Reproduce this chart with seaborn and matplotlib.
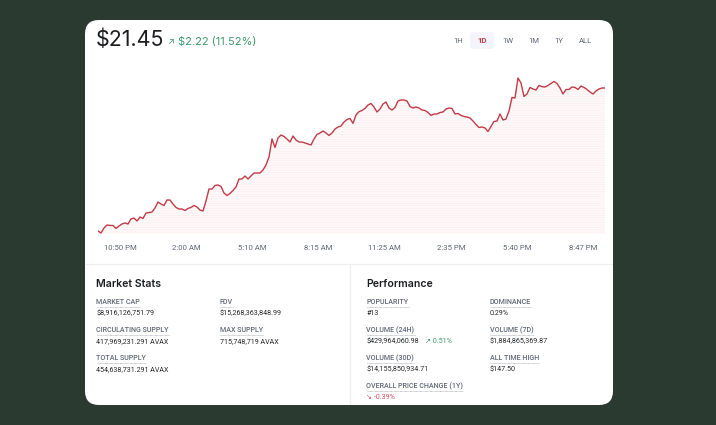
import numpy as np
import pandas as pd
import matplotlib.pyplot as plt
import seaborn as sns
from matplotlib.patches import FancyBboxPatch

# price samples, evenly spaced over the day
price = [19.305, 19.275, 19.35, 19.395, 19.388, 19.388, 19.343, 19.38, 19.41, 19.425,
         19.41, 19.485, 19.5, 19.455, 19.515, 19.493, 19.575, 19.583, 19.59, 19.65,
         19.74, 19.71, 19.688, 19.77, 19.77, 19.71, 19.658, 19.635, 19.635, 19.613,
         19.643, 19.658, 19.688, 19.665, 19.62, 19.605, 19.755, 19.935, 19.935, 19.988,
         19.995, 19.973, 19.875, 19.838, 19.868, 19.913, 19.965, 20.085, 20.085, 20.13,
         20.085, 20.13, 20.175, 20.175, 20.175, 20.22, 20.295, 20.415, 20.685, 20.558,
         20.7, 20.745, 20.723, 20.685, 20.64, 20.73, 20.67, 20.64, 20.64, 20.625,
         20.61, 20.595, 20.685, 20.753, 20.775, 20.805, 20.775, 20.738, 20.775, 20.835,
         20.865, 20.88, 20.94, 20.978, 20.993, 20.92, 21.045, 21.095, 21.113, 21.143,
         21.195, 21.218, 21.165, 21.09, 21.135, 21.21, 21.24, 21.15, 21.12, 21.158,
         21.255, 21.27, 21.27, 21.255, 21.173, 21.15, 21.165, 21.15, 21.12, 21.113,
         21.083, 21.038, 21.06, 21.06, 21.083, 21.09, 21.135, 21.15, 21.143, 21.06,
         21.068, 21.038, 21.023, 21.015, 21.0, 20.955, 20.903, 20.858, 20.865, 20.85,
         20.798, 20.873, 20.948, 20.955, 21.06, 20.97, 20.985, 21.105, 21.308, 21.3,
         21.6, 21.525, 21.323, 21.36, 21.458, 21.435, 21.42, 21.488, 21.47, 21.465,
         21.488, 21.518, 21.548, 21.518, 21.45, 21.36, 21.428, 21.428, 21.465, 21.458,
         21.428, 21.48, 21.458, 21.428, 21.39, 21.36, 21.405, 21.435, 21.45, 21.45]
time_labels = ['10:50 PM', '2:00 AM', '5:10 AM', '8:15 AM', '11:25 AM', '2:35 PM', '5:40 PM', '8:47 PM']
ranges = ['1H', '1D', '1W', '1M', '1Y', 'ALL']

market_labels = ['MARKET CAP', 'FDV', 'CIRCULATING SUPPLY', 'MAX SUPPLY', 'TOTAL SUPPLY']
market_values = ['$8,916,126,751.79', '$15,268,363,848.99', '417,969,231.291 AVAX', '715,748,719 AVAX', '454,638,731.291 AVAX']
perf_labels = ['POPULARITY', 'DOMINANCE', 'VOLUME (24H)', 'VOLUME (7D)', 'VOLUME (30D)', 'ALL TIME HIGH', 'OVERALL PRICE CHANGE (1Y)']
perf_values = ['#13', '0.29%', '$429,964,060.98', '$1,884,865,369.87', '$14,155,850,934.71', '$147.50', '↘ -0.39%']

BG = '#2a3a31'
RED = '#c23a48'
GREEN = '#3f9a70'
GREY = '#5f6675'
INK = '#26282b'
W, H = 716, 425
SMALL = ['Roboto', 'DejaVu Sans']

sns.set_theme(style='white')
plt.rcParams['font.family'] = ['Inter', 'DejaVu Sans']
plt.rcParams['hatch.linewidth'] = 0.6

fig = plt.figure(figsize=(W / 100, H / 100), dpi=100, facecolor=BG)

# page layer in pixel coordinates
page = fig.add_axes([0, 0, 1, 1], zorder=1)
page.set_xlim(0, W)
page.set_ylim(H, 0)
page.axis('off')
page.add_patch(FancyBboxPatch((85, 20), 528, 385, boxstyle='round,pad=0,rounding_size=14', fc='white', ec='none'))
page.plot([86, 612], [264, 264], color='#eeeff1', lw=0.9)
page.plot([350, 350], [264, 404], color='#eeeff1', lw=0.9)

# chart
df = pd.DataFrame({'t': np.arange(len(price)), 'price': price})
left, step, bottom, top = 98, 3, 234, 70
ax = fig.add_axes([left / W, 1 - bottom / H, step * (len(price) - 1) / W, (bottom - top) / H], zorder=2)
ax.patch.set_alpha(0)
ymin, ymax = 19.26, 21.72
ax.fill_between(df['t'], df['price'], ymin, facecolor='#fffafa', edgecolor='#fdeeee', hatch='-------', linewidth=0)
sns.lineplot(data=df, x='t', y='price', color=RED, linewidth=1.0, ax=ax)
ax.set_xlim(0, len(price) - 1)
ax.set_ylim(ymin, ymax)
ax.set_xticks(np.linspace(7.3, 161.7, len(time_labels)))
ax.set_xticklabels(time_labels, fontsize=5.6, color=GREY, family=SMALL)
ax.tick_params(axis='x', length=0, pad=8)
ax.set_yticks([])
ax.set_xlabel('')
ax.set_ylabel('')
sns.despine(ax=ax, left=True, bottom=True)

# header
page.text(96, 40, '$21.45', fontsize=15.4, color='#1c1d20', va='center', ha='left')
page.text(167.5, 41.5, '↗', fontsize=6.5, color=GREEN, va='center', ha='left')
page.text(178, 41.5, '$2.22 (11.52%)', fontsize=8, color=GREEN, va='center', ha='left')
page.add_patch(FancyBboxPatch((470, 32), 24, 17, boxstyle='round,pad=0,rounding_size=3', fc='#f4f5fa', ec='none'))
for name, cx in zip(ranges, [458, 482.5, 508, 534, 559, 585.5]):
    page.text(cx, 40.5, name, fontsize=5.6, color=RED if name == '1D' else GREY, ha='center', va='center',
              fontweight='bold' if name == '1D' else 'normal', family=SMALL)


def stat(x, y, label, value, color=INK):
    t = page.text(x, y, label, fontsize=5.1, color=GREY, va='center', ha='left', family=SMALL, fontweight='medium')
    page.text(x, y + 11.2, value, fontsize=5.15, color=color, va='center', ha='left', family=SMALL)
    return t


page.text(96.5, 284, 'Market Stats', fontsize=7.6, color='#1c1d20', fontweight='semibold', va='center')
page.text(366.5, 284, 'Performance', fontsize=7.6, color='#1c1d20', fontweight='semibold', va='center')

heads = []
rows = [302.3, 330.3, 358.3, 386.3]
for i, (lab, val) in enumerate(zip(market_labels, market_values)):
    heads.append(stat(96.5 if i % 2 == 0 else 219.5, rows[i // 2], lab, val))
for i, (lab, val) in enumerate(zip(perf_labels, perf_values)):
    col = '#d0505f' if lab.startswith('OVERALL') else INK
    heads.append(stat(366.5 if i % 2 == 0 else 490, rows[i // 2], lab, val, col))
page.text(425, rows[1] + 11.2, '↗ 0.51%', fontsize=5.15, color=GREEN, va='center', ha='left', family=SMALL)

# dotted underline below the stat labels
fig.canvas.draw()
inv = page.transData.inverted()
for t in heads:
    bb = t.get_window_extent().transformed(inv)
    page.plot([bb.x0, bb.x1], [bb.y0 + 0.6, bb.y0 + 0.6], color='#9ba0aa', lw=0.5, ls=(0, (1, 0.8)))

fig.savefig('out.png', dpi=100, facecolor=BG)
